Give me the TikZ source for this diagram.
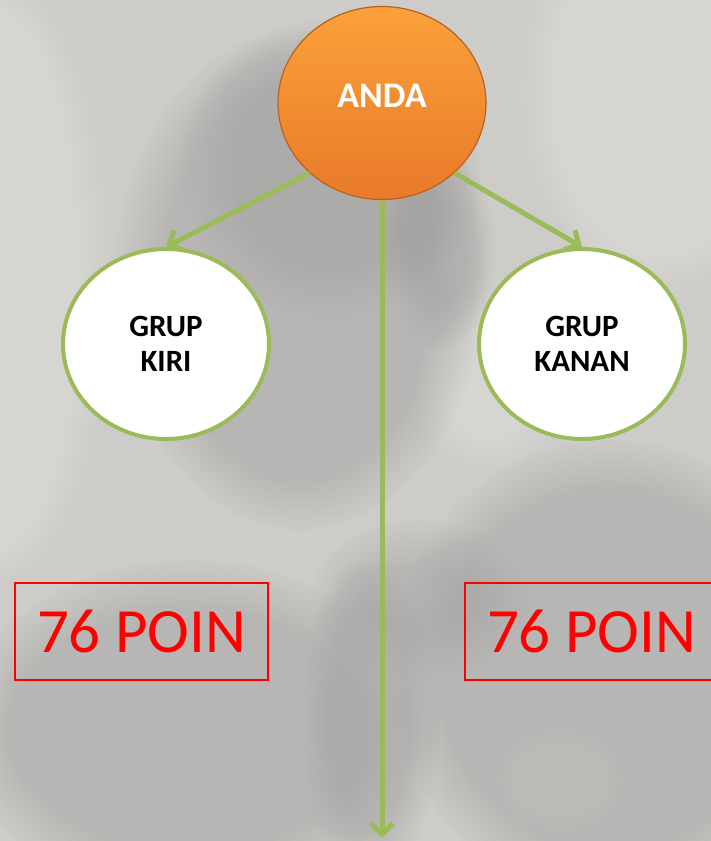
\documentclass[tikz,border=0pt]{standalone}
\usepackage{fontspec}
\setmainfont{Carlito}
\usetikzlibrary{shapes.geometric,arrows.meta}
\definecolor{bgbase}{HTML}{CECCC9}
\definecolor{shade}{HTML}{A6A5A4}
\definecolor{lightbg}{HTML}{E4E2DE}
\definecolor{grn}{HTML}{9BBB59}
\definecolor{orgtop}{HTML}{FBA13A}
\definecolor{orgbot}{HTML}{E97A2A}
\definecolor{orgedge}{HTML}{B8621E}
\tikzset{
  grouplbl/.style={ellipse, draw=grn, line width=4pt, fill=white, minimum width=206pt, minimum height=190pt, inner sep=0pt, align=center, font=\bfseries\fontsize{31}{35}\selectfont},
  topball/.style={ellipse, draw=orgedge, line width=1.2pt, top color=orgtop, bottom color=orgbot, minimum width=208pt, minimum height=193pt, inner sep=0pt},
  pointbox/.style={draw=red, line width=1.5pt, minimum width=253pt, minimum height=97pt, inner sep=0pt, text=red, font=\fontsize{63}{70}\selectfont},
  conn/.style={draw=grn, line width=5pt, -{Straight Barb[length=11pt,width=22pt,line width=5pt]}},
  blob/.style={fill=shade, opacity=0.055},
  lite/.style={fill=lightbg, opacity=0.08}
}
\begin{document}
\begin{tikzpicture}[x=1pt,y=-1pt]
\useasboundingbox (0,0) rectangle (711,841);
\begin{scope}
\clip (0,0) rectangle (711,841);
\fill[bgbase] (0,0) rectangle (711,841);
% lighter areas
\foreach \s in {0,4,...,40}{
  \fill[lite] (660,90) ellipse ({140-\s} and {200-\s});
  \fill[lite] (0,280) ellipse ({110-\s} and {300-\s});
  \fill[lite] (490,380) ellipse ({80-\s} and {90-\s});
  \fill[lite] (560,780) ellipse ({70-\s*0.8} and {60-\s*0.8});
}
% silhouette: head
\foreach \s in {0,5,...,50}{
  \fill[blob] (300,280) ellipse ({185-\s} and {250-\s});
  \fill[blob] (330,170) ellipse ({150-\s} and {150-\s});
  \fill[blob] (440,250) ellipse ({55-\s*0.5} and {100-\s});
}
% shoulders / arm right
\foreach \s in {0,5,...,50}{
  \fill[blob] (610,670) ellipse ({220-\s} and {230-\s});
  \fill[blob] (420,600) ellipse ({110-\s} and {80-\s});
}
% arm / body left
\foreach \s in {0,5,...,50}{
  \fill[blob] (190,730) ellipse ({230-\s} and {170-\s});
  \fill[blob] (370,720) ellipse ({70-\s*0.6} and {160-\s});
}
\end{scope}

\node[topball] (anda) at (382,103) {};
\node[text=white, font=\bfseries\fontsize{36}{40}\selectfont] (andatxt) at (382,96) {ANDA};

\node[grouplbl] (kiri) at (166,344) {GRUP\\KIRI};
\node[grouplbl] (kanan) at (582,344) {GRUP\\KANAN};

\node[pointbox] (boxl) at (141.5,631.5) {76 POIN};
\node[pointbox] (boxr) at (591.5,631.5) {76 POIN};

\coordinate (bottomend) at (382,838);
\draw[conn] (anda.224) -- (kiri.north);
\draw[conn] (anda.-44) -- (kanan.north);
\draw[conn] (anda.south) -- (bottomend);
\end{tikzpicture}
\end{document}
